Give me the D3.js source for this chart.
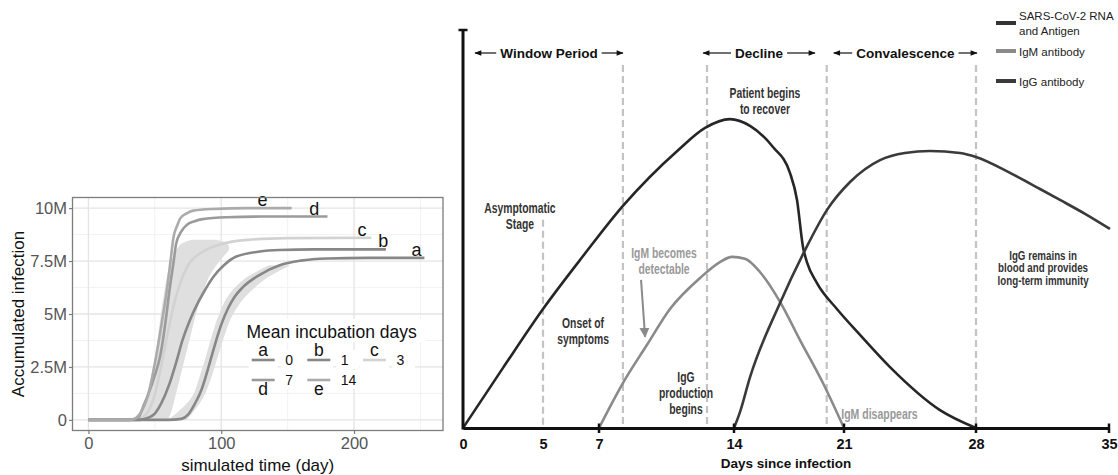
<!DOCTYPE html>
<html>
<head>
<meta charset='utf-8'>
<title>Incubation curves and antibody timeline</title>
<script src='https://d3js.org/d3.v7.min.js'></script>
<style>
  body {margin:0; background:#fff;}
  svg {display:block;}
  text {font-family:'Liberation Sans',Arial,sans-serif;}
</style>
</head>
<body>
<script>
// ---- left chart: accumulated infection (millions) vs simulated day ----
const aDays=[0,60,70,75,80,85,90,95,100,105,110,116,129,144,160,180,210,253];
const aVals=[0,0,0.05,0.25,0.75,1.4,2.4,3.5,4.5,5.25,5.8,6.25,6.85,7.3,7.52,7.62,7.65,7.65];
const bDays=[0,38,45,50,55,61,66,71,76,81,87,94,102,111,129,144,170,224];
const bVals=[0,0,0.1,0.3,0.8,1.7,2.7,3.8,4.65,5.35,6.05,6.75,7.3,7.7,7.95,8.02,8.05,8.05];
const cDays=[0,30,40,45,50,55,60,65,70,75,85,100,120,150,213];
const cVals=[0,0,0.1,0.4,1.2,2.6,4.2,5.6,6.6,7.3,7.9,8.3,8.5,8.58,8.6];
const dDays=[0,32,38,41,45,50,54,58,61,64,66,70,74,80,86,104,130,180];
const dVals=[0,0,0.15,0.6,1.2,2.1,3.0,4.6,6.1,7.4,8.3,8.9,9.2,9.38,9.48,9.57,9.6,9.6];
const eDays=[0,30,36,39,45,51,55,59,62,64,67,69,74,79,94,120,153];
const eVals=[0,0,0.1,0.3,1.2,3.0,4.5,6.1,7.6,8.6,9.2,9.5,9.75,9.88,9.96,10,10];
// light band of simulated runs (value level -> left/right day)
const bandLevels=[0,0.5,1,2,3,4,5,6,7,7.6,8.1,8.35,8.5];
const bandLeft=[33,40,43,47,50,52.5,54.5,57,60,63,67,71,78];
const bandRight=[60,63,65,69,73,77,81,86,93,100,106,104,96];
const aBandLevels=[0,1,2,3,4,5,6,6.8,7.3];
const aBandLeft=[60,77,83.5,88.5,93,98.5,107,121,136];
const aBandRight=[74,86,92.5,97.5,102.5,109,121,137,152];
const letters=['a','b','c','d','e'];
const incubation=['0','1','3','7','14'];
const labelDays=[247,222,206,170,131];
const xTicksL=[0,100,200];
const yTicksL=[0,2.5,5,7.5,10];

// ---- right chart: days since infection ----
const dayTicks=[0,5,7,14,21,28,35];
const markedTicks=[7,14,21,28,35];
const rnaDays=[0,2.5,5,6.43,8.24,11.1,12.5,13.79,15.02,16.48,17.56,18.01,18.39,18.64,19.28,20.55,21.85,23.44,26.09,28];
const rnaLevel=[0,15.1,29.9,43.2,55.8,69.8,75.4,77.6,75.9,70.6,64.1,57.3,45.5,41.7,36.4,29.9,23.4,15.3,4.5,0];
const igmDays=[7,8.24,9.49,10.68,12.24,13.27,13.9,14.7,15.65,16.93,18.2,19.66,21];
const igmLevel=[0,11.3,20.9,29.9,37.7,41.7,43.0,42.5,39.2,31.7,22.1,11.3,0];
const iggDays=[14,14.38,15.02,16.93,18.52,19.92,21.32,22.91,24.23,25.56,27.15,28,29.79,31.37,32.42,33.74,35.05];
const iggLevel=[0,4.0,12.8,31.4,44.7,54.8,61.8,67.3,69.1,69.6,69.1,68.1,64.1,60.05,57.3,53.8,50.0];
const dashDays=[5,8.24,12.6,19.9,28];
const dashTop=[52.3,91.2,91.2,91.2,91.2];
const periods=['Window Period','Decline','Convalescence'];
const periodFrom=[0.75,12.4,20.35];
const periodTo=[8.24,19.15,28.05];
const seriesNames=[['SARS-CoV-2 RNA','and Antigen'],['IgM antibody'],['IgG antibody']];

const W=1118,H=475;
const svg=d3.select('body').append('svg').attr('width',W).attr('height',H);

// condensed text: no narrow face installed, so squeeze a condensed face
function squeeze(g,x,y,str,size,color,factor,bold,anchor){
  const t=g.append('text').attr('x',x).attr('y',y).attr('font-size',size).attr('fill',color)
    .attr('font-family','DejaVu Sans Condensed,DejaVu Sans,sans-serif')
    .attr('font-weight',bold?'bold':'normal').attr('text-anchor',anchor||'middle').text(str);
  const w=t.node().getComputedTextLength();
  t.attr('textLength',w*factor).attr('lengthAdjust','spacingAndGlyphs');
  return t;
}

// ================= LEFT =================
const L=svg.append('g');
const xL=d3.scaleLinear().domain([-12,267]).range([72.5,443]);
const yL=d3.scaleLinear().domain([-0.5,10.5]).range([430.5,197.5]);

// grid
[50,150,250].forEach(v=>L.append('line').attr('x1',xL(v)).attr('x2',xL(v))
  .attr('y1',197.5).attr('y2',430.5).attr('stroke','#efefef').attr('stroke-width',0.8));
[1.25,3.75,6.25,8.75].forEach(v=>L.append('line').attr('y1',yL(v)).attr('y2',yL(v))
  .attr('x1',72.5).attr('x2',443).attr('stroke','#efefef').attr('stroke-width',0.8));
xTicksL.forEach(v=>L.append('line').attr('x1',xL(v)).attr('x2',xL(v))
  .attr('y1',197.5).attr('y2',430.5).attr('stroke','#e4e4e4').attr('stroke-width',1.3));
yTicksL.forEach(v=>L.append('line').attr('y1',yL(v)).attr('y2',yL(v))
  .attr('x1',72.5).attr('x2',443).attr('stroke','#e4e4e4').attr('stroke-width',1.3));

// bands
const hArea=d3.area().curve(d3.curveMonotoneY)
  .y(d=>yL(d[0])).x0(d=>xL(d[1])).x1(d=>xL(d[2]));
L.append('path').datum(bandLevels.map((v,i)=>[v,bandLeft[i],bandRight[i]]))
  .attr('d',hArea).attr('fill','#dfdfdf');
L.append('path').datum(aBandLevels.map((v,i)=>[v,aBandLeft[i],aBandRight[i]]))
  .attr('d',hArea).attr('fill','#dfdfdf');

const curves=[[aDays,aVals,'#878787'],[bDays,bVals,'#878787'],[cDays,cVals,'#d2d2d2'],
              [dDays,dVals,'#9b9b9b'],[eDays,eVals,'#ababab']];
const lineL=d3.line().curve(d3.curveMonotoneX).x(d=>xL(d[0])).y(d=>yL(d[1]));
[2,0,1,3,4].forEach(i=>{
  const c=curves[i];
  L.append('path').datum(c[0].map((d,j)=>[d,c[1][j]])).attr('d',lineL)
   .attr('fill','none').attr('stroke',c[2]).attr('stroke-width',2.6);
});
// end labels
curves.forEach((c,i)=>{
  L.append('text').attr('x',xL(labelDays[i])).attr('y',yL(c[1][c[1].length-1])-2)
   .attr('text-anchor','middle').attr('font-size',18).attr('fill','#111').text(letters[i]);
});

// panel border
L.append('rect').attr('x',72.5).attr('y',197.5).attr('width',370.5).attr('height',233)
  .attr('fill','none').attr('stroke','#7d7d7d').attr('stroke-width',1.3);

// axes
const axL=L.append('g').attr('transform','translate(72.5,0)')
  .call(d3.axisLeft(yL).tickValues(yTicksL).tickSize(3.5).tickPadding(2)
  .tickFormat(d=>d===0?'0':d+'M'));
const axB=L.append('g').attr('transform','translate(0,430.5)')
  .call(d3.axisBottom(xL).tickValues(xTicksL).tickSize(3.5).tickPadding(3));
[axL,axB].forEach(a=>{
  a.select('.domain').remove();
  a.selectAll('line').attr('stroke','#7d7d7d').attr('stroke-width',1.2);
  a.selectAll('text').attr('fill','#555').attr('font-size',16.5)
   .attr('font-family','Liberation Sans,Arial,sans-serif');
});
L.append('text').attr('x',257.7).attr('y',471).attr('text-anchor','middle')
  .attr('font-size',17).attr('fill','#111').text('simulated time (day)');
L.append('text').attr('transform','translate(24,314) rotate(-90)').attr('text-anchor','middle')
  .attr('font-size',17).attr('fill','#111').text('Accumulated infection');

// legend
const lg=L.append('g');
lg.append('rect').attr('x',244).attr('y',319).attr('width',182).attr('height',23).attr('fill','#fff');
lg.append('text').attr('x',246.5).attr('y',337.5).attr('font-size',17.5).attr('fill','#111')
  .text('Mean incubation days');
letters.forEach((l,i)=>{
  const row=i<3?0:1,col=i%3;
  const kx=251.7+col*55.6, ky=360+row*20;
  lg.append('rect').attr('x',kx-3).attr('y',ky-10).attr('width',29).attr('height',19).attr('fill','#fff');
  lg.append('rect').attr('x',kx+29).attr('y',ky-10).attr('width',23).attr('height',19).attr('fill','#fff');
  lg.append('line').attr('x1',kx).attr('x2',kx+23).attr('y1',ky).attr('y2',ky)
    .attr('stroke',curves[i][2]).attr('stroke-width',2.6);
  lg.append('text').attr('x',kx+11.5).attr('y',row===0?ky-4:ky+15).attr('text-anchor','middle')
    .attr('font-size',17.5).attr('fill','#111').text(l);
  lg.append('text').attr('x',kx+33.5).attr('y',ky+5).attr('font-size',14).attr('fill','#111')
    .text(incubation[i]);
});

// ================= RIGHT =================
const R=svg.append('g');
const xR=d3.scaleLinear().domain(dayTicks).range([463,543,599,734,844,976,1109]);
const yR=d3.scaleLinear().domain([0,100]).range([428,30]);

// dashed period lines
dashDays.forEach((d,i)=>R.append('line').attr('x1',xR(d)).attr('x2',xR(d))
  .attr('y1',yR(dashTop[i])).attr('y2',yR(0)).attr('stroke','#c3c3c3')
  .attr('stroke-width',2.2).attr('stroke-dasharray','7,4'));

// period headers with arrows
const defs=svg.append('defs');
defs.append('marker').attr('id','ah').attr('viewBox','0 0 10 10').attr('refX',9).attr('refY',5)
  .attr('markerWidth',8).attr('markerHeight',7).attr('markerUnits','userSpaceOnUse')
  .attr('orient','auto').append('path').attr('d','M0,1L10,5L0,9Z').attr('fill','#111');
defs.append('marker').attr('id','ahg').attr('viewBox','0 0 10 10').attr('refX',9).attr('refY',5)
  .attr('markerWidth',10).attr('markerHeight',12).attr('markerUnits','userSpaceOnUse')
  .attr('orient','auto').append('path').attr('d','M0,0L10,5L0,10Z').attr('fill','#8a8a8a');
periods.forEach((p,i)=>{
  const x0=xR(periodFrom[i]),x1=xR(periodTo[i]),cx=(x0+x1)/2;
  const t=R.append('text').attr('x',cx).attr('y',57.5).attr('text-anchor','middle')
    .attr('font-size',13.5).attr('font-weight','bold').attr('fill','#111').text(p);
  const w=t.node().getComputedTextLength();
  R.append('line').attr('x1',cx-w/2-4).attr('x2',x0).attr('y1',53).attr('y2',53)
    .attr('stroke','#111').attr('stroke-width',1.2).attr('marker-end','url(#ah)');
  R.append('line').attr('x1',cx+w/2+4).attr('x2',x1).attr('y1',53).attr('y2',53)
    .attr('stroke','#111').attr('stroke-width',1.2).attr('marker-end','url(#ah)');
});

// curves
const lineR=d3.line().curve(d3.curveMonotoneX).x(d=>xR(d[0])).y(d=>yR(d[1]));
[[igmDays,igmLevel,'#8a8a8a'],[rnaDays,rnaLevel,'#262626'],[iggDays,iggLevel,'#3a3a3a']]
  .forEach(s=>R.append('path').datum(s[0].map((d,j)=>[d,s[1][j]])).attr('d',lineR)
  .attr('fill','none').attr('stroke',s[2]).attr('stroke-width',2.6));

// axes
R.append('line').attr('x1',xR(0)).attr('x2',xR(0)).attr('y1',yR(100)).attr('y2',yR(0)+1.5)
  .attr('stroke','#111').attr('stroke-width',3);
R.append('line').attr('x1',xR(0)-4.5).attr('x2',xR(0)+4.5).attr('y1',yR(100)).attr('y2',yR(100))
  .attr('stroke','#111').attr('stroke-width',2.5);
const axR=R.append('g').attr('transform','translate(0,'+yR(0)+')')
  .call(d3.axisBottom(xR).tickValues(dayTicks).tickSize(0).tickPadding(11));
axR.select('.domain').attr('stroke','#111').attr('stroke-width',3);
axR.selectAll('text').attr('font-size',14.5).attr('font-weight','bold').attr('fill','#111')
  .attr('font-family','Liberation Sans,Arial,sans-serif');
markedTicks.forEach(d=>R.append('line').attr('x1',xR(d)).attr('x2',xR(d))
  .attr('y1',yR(0)-4.5).attr('y2',yR(0)+5).attr('stroke','#111').attr('stroke-width',2.5));
R.append('text').attr('x',786).attr('y',467.5).attr('text-anchor','middle')
  .attr('font-size',13.5).attr('font-weight','bold').attr('fill','#111').text('Days since infection');

// annotations: lines, day, level, line step, colour, size, squeeze
const notes=[
  [['Patient begins','to recover'],15.97,84.2,16,'#333',15,0.69],
  [['Asymptomatic','Stage'],3.56,55.3,16,'#333',15,0.69],
  [['IgM becomes','detectable'],10.37,44.0,16,'#999',15,0.69],
  [['Onset of','symptoms'],6.43,26.4,16.5,'#333',15,0.69],
  [['IgG','production','begins'],11.51,12.8,16,'#333',15,0.69],
  [['IgM disappears'],22.88,3.5,16,'#999',15,0.7],
  [['IgG remains in','blood and provides','long-term immunity'],31.53,43.5,12.4,'#333',12.5,0.78]
];
notes.forEach(n=>{
  n[0].forEach((s,k)=>squeeze(R,xR(n[1]),yR(n[2])+5+k*n[3],s,n[5],n[4],n[6],true));
});
R.append('line').attr('x1',xR(9.18)).attr('y1',yR(37.2)).attr('x2',xR(9.39)).attr('y2',yR(22.9))
  .attr('stroke','#8a8a8a').attr('stroke-width',2).attr('marker-end','url(#ahg)');

// legend
const legY=[23,51,81],legC=['#333','#8a8a8a','#3a3a3a'];
seriesNames.forEach((s,i)=>{
  R.append('line').attr('x1',996).attr('x2',1016).attr('y1',legY[i]).attr('y2',legY[i])
    .attr('stroke',legC[i]).attr('stroke-width',4);
  s.forEach((l,k)=>R.append('text').attr('x',1019)
    .attr('y',legY[i]+4.5+(s.length>1?(k-0.5)*15.5:0))
    .attr('font-family','DejaVu Sans Condensed,DejaVu Sans,sans-serif')
    .attr('font-size',11.5).attr('fill','#222').text(l));
});
</script>
</body>
</html>
